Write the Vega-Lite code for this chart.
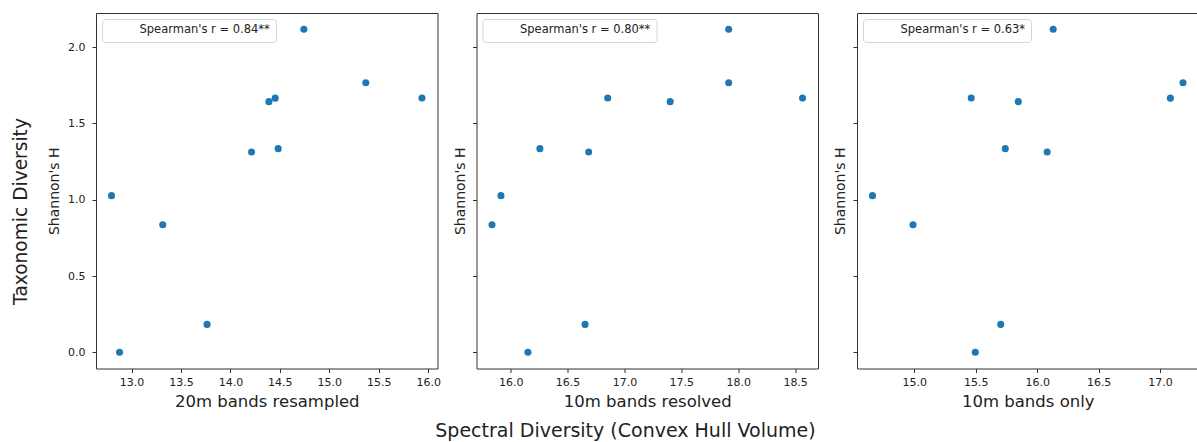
{
  "$schema": "https://vega.github.io/schema/vega-lite/v6.json",
  "background": "white",
  "autosize": {"type": "pad"},
  "padding": {"left": 11, "top": 12, "right": 0, "bottom": 0},
  "datasets": {
    "p1": [
      {"x": 12.798, "y": 1.027, "stat": "Spearman's r = 0.84**"},
      {"x": 12.879, "y": 0.0, "stat": "Spearman's r = 0.84**"},
      {"x": 13.316, "y": 0.836, "stat": "Spearman's r = 0.84**"},
      {"x": 13.764, "y": 0.183, "stat": "Spearman's r = 0.84**"},
      {"x": 14.214, "y": 1.313, "stat": "Spearman's r = 0.84**"},
      {"x": 14.389, "y": 1.643, "stat": "Spearman's r = 0.84**"},
      {"x": 14.453, "y": 1.666, "stat": "Spearman's r = 0.84**"},
      {"x": 14.483, "y": 1.335, "stat": "Spearman's r = 0.84**"},
      {"x": 14.743, "y": 2.118, "stat": "Spearman's r = 0.84**"},
      {"x": 15.369, "y": 1.767, "stat": "Spearman's r = 0.84**"},
      {"x": 15.937, "y": 1.667, "stat": "Spearman's r = 0.84**"}
    ],
    "p2": [
      {"x": 15.836, "y": 0.836, "stat": "Spearman's r = 0.80**"},
      {"x": 15.915, "y": 1.027, "stat": "Spearman's r = 0.80**"},
      {"x": 16.152, "y": 0.0, "stat": "Spearman's r = 0.80**"},
      {"x": 16.257, "y": 1.335, "stat": "Spearman's r = 0.80**"},
      {"x": 16.654, "y": 0.183, "stat": "Spearman's r = 0.80**"},
      {"x": 16.686, "y": 1.313, "stat": "Spearman's r = 0.80**"},
      {"x": 16.853, "y": 1.667, "stat": "Spearman's r = 0.80**"},
      {"x": 17.402, "y": 1.643, "stat": "Spearman's r = 0.80**"},
      {"x": 17.916, "y": 2.118, "stat": "Spearman's r = 0.80**"},
      {"x": 17.916, "y": 1.767, "stat": "Spearman's r = 0.80**"},
      {"x": 18.565, "y": 1.667, "stat": "Spearman's r = 0.80**"}
    ],
    "p3": [
      {"x": 14.659, "y": 1.027, "stat": "Spearman's r = 0.63*"},
      {"x": 14.989, "y": 0.836, "stat": "Spearman's r = 0.63*"},
      {"x": 15.463, "y": 1.667, "stat": "Spearman's r = 0.63*"},
      {"x": 15.496, "y": 0.0, "stat": "Spearman's r = 0.63*"},
      {"x": 15.703, "y": 0.183, "stat": "Spearman's r = 0.63*"},
      {"x": 15.74, "y": 1.335, "stat": "Spearman's r = 0.63*"},
      {"x": 15.846, "y": 1.643, "stat": "Spearman's r = 0.63*"},
      {"x": 16.081, "y": 1.313, "stat": "Spearman's r = 0.63*"},
      {"x": 16.13, "y": 2.118, "stat": "Spearman's r = 0.63*"},
      {"x": 17.084, "y": 1.666, "stat": "Spearman's r = 0.63*"},
      {"x": 17.187, "y": 1.767, "stat": "Spearman's r = 0.63*"}
    ]
  },
  "config": {
    "font": "DejaVu Sans",
    "view": {"stroke": "#333333", "strokeWidth": 1},
    "axis": {
      "domain": false,
      "grid": false,
      "tickColor": "#333333",
      "tickSize": 4,
      "labelColor": "#222222",
      "labelFontSize": 11,
      "labelFont": "DejaVu Sans",
      "titleFont": "DejaVu Sans",
      "titleFontWeight": "normal",
      "titleColor": "#222222"
    },
    "legend": {
      "orient": "top-left",
      "offset": 6,
      "padding": 5.5,
      "fillColor": "white",
      "strokeColor": "#d6d6d6",
      "cornerRadius": 3,
      "symbolOpacity": 0,
      "symbolStrokeWidth": 0,
      "symbolSize": 64,
      "labelOffset": 20.5,
      "labelFontSize": 11.5,
      "labelColor": "#222222",
      "labelFont": "DejaVu Sans",
      "labelLimit": 400
    }
  },
  "bounds": "flush",
  "title": {
    "text": "Spectral Diversity (Convex Hull Volume)",
    "orient": "bottom",
    "anchor": "middle",
    "fontSize": 19,
    "fontWeight": "normal",
    "font": "DejaVu Sans",
    "color": "#222222",
    "offset": 11,
    "dx": 20
  },
  "vconcat": [
    {
      "title": {
        "text": "Taxonomic Diversity",
        "orient": "left",
        "anchor": "middle",
        "fontSize": 18.6,
        "fontWeight": "normal",
        "font": "DejaVu Sans",
        "color": "#222222",
        "offset": 16
      },
      "bounds": "flush",
      "spacing": 38.5,
      "resolve": {"scale": {"color": "independent", "x": "independent"}, "legend": {"color": "independent"}},
      "hconcat": [
        {
          "width": 341.5,
          "height": 355.5,
          "data": {"name": "p1"},
          "mark": {"type": "point", "filled": true, "opacity": 1, "size": 50},
          "encoding": {
            "x": {"field": "x", "type": "quantitative", "scale": {"domain": [12.641, 16.094], "nice": false, "zero": false},
                  "axis": {"title": "20m bands resampled", "titleFontSize": 16.5, "labelPadding": 4, "titlePadding": 6, "values": [13, 13.5, 14, 14.5, 15, 15.5, 16], "format": ".1f"}},
            "y": {"field": "y", "type": "quantitative", "scale": {"domain": [-0.106, 2.224], "nice": false, "zero": false},
                  "axis": {"title": "Shannon's H", "titleFontSize": 14, "labelPadding": 7, "titlePadding": 6.5, "values": [0, 0.5, 1, 1.5, 2], "format": ".1f"}},
            "color": {"field": "stat", "type": "nominal", "scale": {"range": ["#1f77b4"]}, "legend": {"title": null}}
          }
        },
        {
          "width": 341.5,
          "height": 355.5,
          "data": {"name": "p2"},
          "mark": {"type": "point", "filled": true, "opacity": 1, "size": 50},
          "encoding": {
            "x": {"field": "x", "type": "quantitative", "scale": {"domain": [15.7, 18.701], "nice": false, "zero": false},
                  "axis": {"title": "10m bands resolved", "titleFontSize": 16.5, "labelPadding": 4, "titlePadding": 6, "values": [16, 16.5, 17, 17.5, 18, 18.5], "format": ".1f"}},
            "y": {"field": "y", "type": "quantitative", "scale": {"domain": [-0.106, 2.224], "nice": false, "zero": false},
                  "axis": {"title": "Shannon's H", "titleFontSize": 14, "titlePadding": 5, "values": [0, 0.5, 1, 1.5, 2], "labels": false}},
            "color": {"field": "stat", "type": "nominal", "scale": {"range": ["#1f77b4"]}, "legend": {"title": null}}
          }
        },
        {
          "width": 341.5,
          "height": 355.5,
          "data": {"name": "p3"},
          "mark": {"type": "point", "filled": true, "opacity": 1, "size": 50},
          "encoding": {
            "x": {"field": "x", "type": "quantitative", "scale": {"domain": [14.533, 17.313], "nice": false, "zero": false},
                  "axis": {"title": "10m bands only", "titleFontSize": 16.5, "labelPadding": 4, "titlePadding": 6, "values": [15, 15.5, 16, 16.5, 17], "format": ".1f"}},
            "y": {"field": "y", "type": "quantitative", "scale": {"domain": [-0.106, 2.224], "nice": false, "zero": false},
                  "axis": {"title": "Shannon's H", "titleFontSize": 14, "titlePadding": 5, "values": [0, 0.5, 1, 1.5, 2], "labels": false}},
            "color": {"field": "stat", "type": "nominal", "scale": {"range": ["#1f77b4"]}, "legend": {"title": null}}
          }
        }
      ]
    }
  ]
}
